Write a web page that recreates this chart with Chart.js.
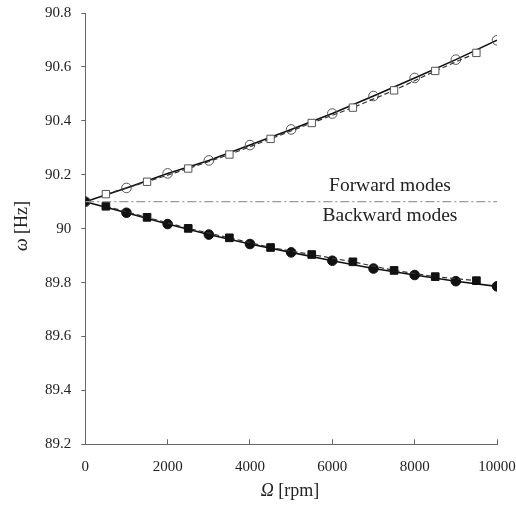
<!DOCTYPE html>
<html>
<head>
<meta charset="utf-8">
<script src="https://cdn.jsdelivr.net/npm/chart.js@4"></script>
<style>
  html, body { margin: 0; padding: 0; background: #fff; }
  #wrap { width: 516px; height: 505px; position: relative; }
</style>
</head>
<body>
<div id="wrap"><canvas id="modes"></canvas></div>
<script>
// rotor speed (rpm) for the two sets of markers
var circleRpm = [0, 1000, 2000, 3000, 4000, 5000, 6000, 7000, 8000, 9000, 10000];
var squareRpm = [500, 1500, 2500, 3500, 4500, 5500, 6500, 7500, 8500, 9500];

// natural frequencies (Hz)
var forwardCircle = [90.100, 90.151, 90.205, 90.253, 90.310, 90.368, 90.427, 90.492, 90.559, 90.627, 90.699];
var forwardSquare = [90.128, 90.174, 90.223, 90.275, 90.333, 90.392, 90.449, 90.513, 90.585, 90.652];
var backwardCircle = [90.100, 90.059, 90.017, 89.978, 89.943, 89.912, 89.881, 89.852, 89.828, 89.805, 89.786];
var backwardSquare = [90.083, 90.042, 90.001, 89.966, 89.930, 89.904, 89.877, 89.845, 89.822, 89.807];

// split between forward and backward modes
var splitRpm = [0, 10000];
var splitFreq = [90.1, 90.1];

var yTicks = [89.2, 89.4, 89.6, 89.8, 90, 90.2, 90.4, 90.6, 90.8];
var xTicks = [0, 2000, 4000, 6000, 8000, 10000];

function pts(xs, ys) {
  var out = [];
  for (var i = 0; i < xs.length; i++) out.push({x: xs[i], y: ys[i]});
  return out;
}

var serif = "'Liberation Serif', 'Times New Roman', serif";
var ink = "#222";

// axis titles with italic symbols + the two mode captions
var textPlugin = {
  id: 'modeText',
  afterDraw: function(chart) {
    var c = chart.ctx;
    var xs = chart.scales.x, ys = chart.scales.y;
    c.save();
    c.fillStyle = ink;
    c.textBaseline = 'alphabetic';

    function mixed(parts, cx, cy) {
      var w = 0;
      parts.forEach(function(p) { c.font = p[1]; w += c.measureText(p[0]).width; });
      var x = cx - w / 2;
      c.textAlign = 'left';
      parts.forEach(function(p) { c.font = p[1]; c.fillText(p[0], x, cy); x += c.measureText(p[0]).width; });
    }

    mixed([["\u03A9", "italic 18px " + serif], [" [rpm]", "18px " + serif]], 290, 496);

    c.save();
    c.translate(27, 226);
    c.rotate(-Math.PI / 2);
    mixed([["\u03C9", "italic 18px " + serif], [" [Hz]", "18px " + serif]], 0, 0);
    c.restore();

    var cx = xs.getPixelForValue(7400);
    var cy = ys.getPixelForValue(90.1);
    c.font = "19.5px " + serif;
    c.textAlign = 'center';
    c.fillText("Forward modes", cx, cy - 11);
    c.fillText("Backward modes", cx, cy + 19);
    c.restore();
  }
};

var ctx = document.getElementById("modes");
var chart = new Chart(ctx, {
  type: 'scatter',
  data: {
    datasets: [
      {
        data: pts(splitRpm, splitFreq),
        showLine: true,
        borderColor: '#9a9a9a',
        borderWidth: 1.2,
        borderDash: [9, 3, 2, 3],
        pointRadius: 0
      },
      {
        data: pts(squareRpm, forwardSquare),
        showLine: true,
        borderColor: '#333',
        borderWidth: 1.2,
        borderDash: [5, 3],
        pointStyle: 'rect',
        pointRadius: 5.2,
        pointBackgroundColor: '#fff',
        pointBorderColor: '#555',
        pointBorderWidth: 1
      },
      {
        data: pts(circleRpm, forwardCircle),
        showLine: true,
        borderColor: '#111',
        borderWidth: 1.6,
        pointStyle: 'circle',
        pointRadius: 4.8,
        pointBackgroundColor: 'rgba(255,255,255,0)',
        pointBorderColor: '#555',
        pointBorderWidth: 1
      },
      {
        data: pts(squareRpm, backwardSquare),
        showLine: true,
        borderColor: '#333',
        borderWidth: 1.2,
        borderDash: [5, 3],
        pointStyle: 'rect',
        pointRadius: 5.4,
        pointBackgroundColor: '#111',
        pointBorderColor: '#111',
        pointBorderWidth: 1
      },
      {
        data: pts(circleRpm, backwardCircle),
        showLine: true,
        borderColor: '#111',
        borderWidth: 1.6,
        pointStyle: 'circle',
        pointRadius: 4.8,
        pointBackgroundColor: '#111',
        pointBorderColor: '#111',
        pointBorderWidth: 1
      }
    ]
  },
  options: {
    responsive: true,
    maintainAspectRatio: false,
    animation: false,
    layout: { padding: 0 },
    plugins: {
      legend: { display: false },
      tooltip: { enabled: false }
    },
    scales: {
      x: {
        type: 'linear',
        min: 0,
        max: 10000,
        afterBuildTicks: function(s) { s.ticks = xTicks.map(function(v) { return {value: v}; }); },
        afterFit: function(s) { s.height = 60.7; s.paddingRight = 19; s.paddingLeft = 0; },
        ticks: {
          color: ink,
          font: { family: serif, size: 15 },
          padding: 19,
          maxRotation: 0,
          callback: function(v) { return String(v); }
        },
        grid: { drawOnChartArea: false, drawTicks: true, tickLength: -5, color: '#666' },
        border: { color: '#666', width: 1 }
      },
      y: {
        type: 'linear',
        min: 89.2,
        max: 90.8,
        afterBuildTicks: function(s) { s.ticks = yTicks.map(function(v) { return {value: v}; }); },
        afterFit: function(s) { s.width = 85.3; s.paddingTop = 13; s.paddingBottom = 0; },
        ticks: {
          color: ink,
          font: { family: serif, size: 15 },
          padding: 10,
          callback: function(v) { return String(+v.toFixed(1)); }
        },
        grid: { drawOnChartArea: false, drawTicks: true, tickLength: 4, color: '#666' },
        border: { color: '#666', width: 1 }
      }
    }
  },
  plugins: [textPlugin]
});
</script>
</body>
</html>
